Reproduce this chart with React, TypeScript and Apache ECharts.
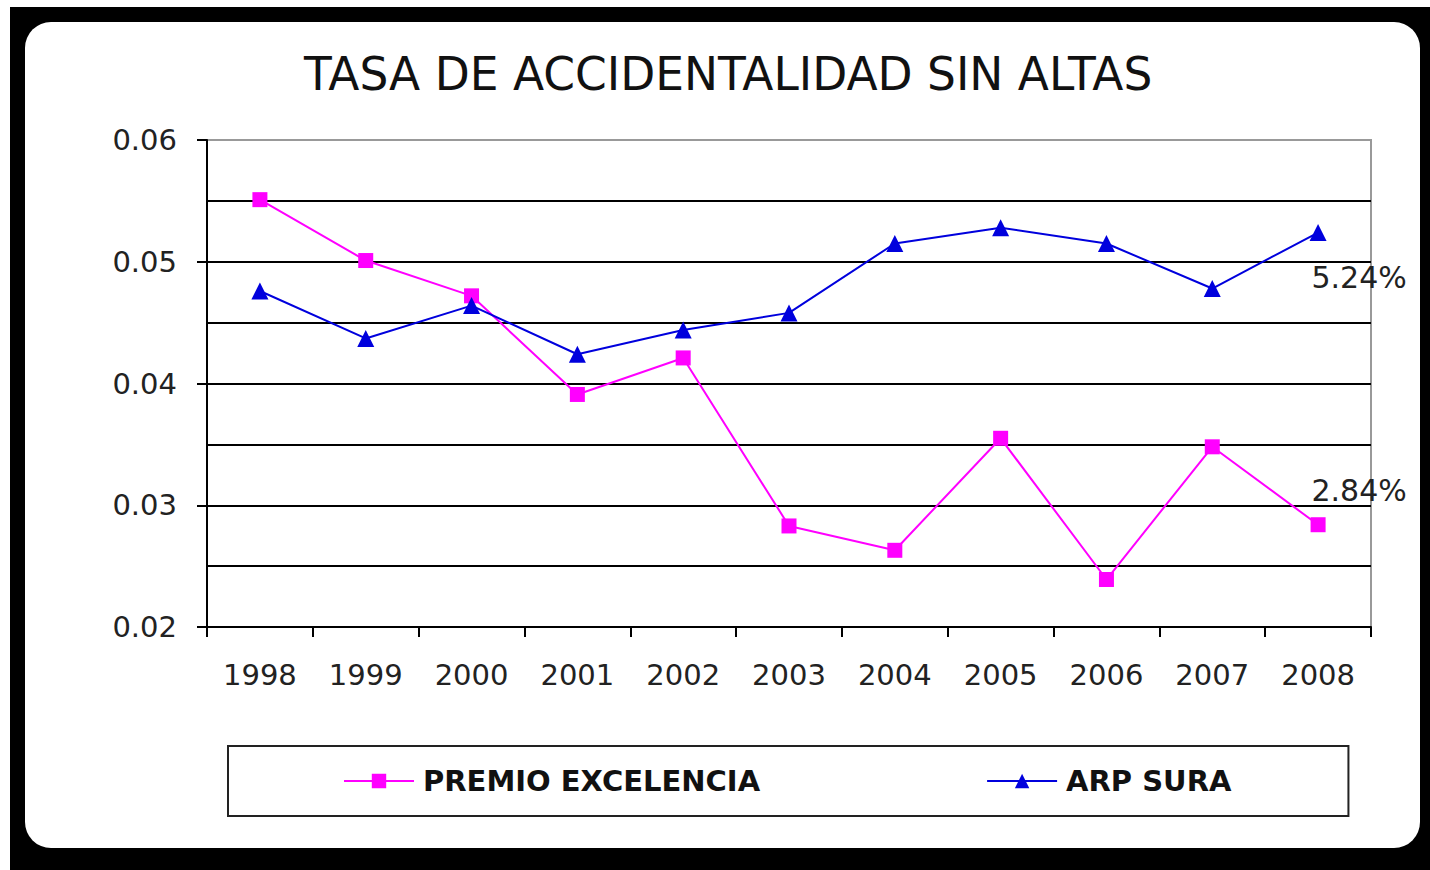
import React, { useEffect, useRef } from "react";
import * as echarts from "echarts";

const years = ["1998", "1999", "2000", "2001", "2002", "2003", "2004", "2005", "2006", "2007", "2008"];
const premioExcelencia = [0.0551, 0.0501, 0.0472, 0.0391, 0.0421, 0.0283, 0.0263, 0.0355, 0.0239, 0.0348, 0.0284];
const arpSura = [0.0476, 0.0437, 0.0464, 0.0424, 0.0444, 0.0458, 0.0515, 0.0528, 0.0515, 0.0478, 0.0524];
const seriesNames = ["PREMIO EXCELENCIA", "ARP SURA"];
const yTicks = { min: 0.02, max: 0.06, interval: 0.01 };

const FONT = "DejaVu Sans";

function withLastLabel(values: number[], offset: [number, number]) {
  return values.map((v, i) =>
    i === values.length - 1
      ? {
          value: v,
          label: {
            show: true,
            position: "inside",
            offset,
            formatter: (p: any) => (p.value * 100).toFixed(2) + "%",
            fontFamily: FONT,
            fontSize: 30,
            color: "#222",
          },
        }
      : v
  );
}

export default function App() {
  const ref = useRef<HTMLDivElement>(null);
  useEffect(() => {
    if (!ref.current) return;
    const chart = echarts.init(ref.current, undefined, { renderer: "svg" });
    chart.setOption({
      animation: false,
      backgroundColor: "#ffffff",
      graphic: [
        { type: "rect", z: -10, shape: { x: 10, y: 7, width: 1420, height: 863 }, style: { fill: "#000" } },
        { type: "rect", z: -9, shape: { x: 25, y: 22, width: 1395, height: 826, r: 26 }, style: { fill: "#fff" } },
      ],
      title: {
        text: "TASA DE ACCIDENTALIDAD SIN ALTAS",
        left: 299,
        top: 46,
        textStyle: { fontFamily: FONT, fontSize: 45.5, fontWeight: "normal", color: "#111" },
      },
      grid: {
        left: 207,
        right: 59,
        top: 140,
        bottom: 243,
        show: true,
        borderColor: "#999",
        borderWidth: 2,
        backgroundColor: "transparent",
      },
      legend: {
        left: 228,
        top: 746,
        orient: "horizontal",
        padding: [20, 117, 20, 115],
        itemGap: 226,
        itemWidth: 70,
        itemHeight: 18,
        borderColor: "#222",
        borderWidth: 2,
        textStyle: { fontFamily: FONT, fontSize: 29, fontWeight: "bold", color: "#111", lineHeight: 30, padding: [0, 0, 0, 4] },
        data: seriesNames,
      },
      xAxis: {
        type: "category",
        data: years,
        boundaryGap: true,
        axisLine: { lineStyle: { color: "#000", width: 2 } },
        axisTick: { show: true, length: 10, lineStyle: { color: "#000", width: 2 } },
        axisLabel: { fontFamily: FONT, fontSize: 29, color: "#222", margin: 33 },
        splitLine: { show: false },
      },
      yAxis: {
        type: "value",
        min: yTicks.min,
        max: yTicks.max,
        interval: yTicks.interval,
        axisLine: { show: true, lineStyle: { color: "#000", width: 2 } },
        axisTick: { show: true, length: 10, lineStyle: { color: "#000", width: 2 } },
        axisLabel: { fontFamily: FONT, fontSize: 29, color: "#222", margin: 30, formatter: (v: number) => v.toFixed(2) },
        splitLine: { show: true, showMaxLine: false, showMinLine: false, lineStyle: { color: "#000", width: 2 } },
        minorTick: { show: false, splitNumber: 2 },
        minorSplitLine: { show: true, lineStyle: { color: "#000", width: 2 } },
      },
      series: [
        {
          name: seriesNames[0],
          type: "line",
          data: withLastLabel(premioExcelencia, [41, -34]),
          symbol: "rect",
          symbolSize: 15,
          showAllSymbol: true,
          lineStyle: { color: "#ff00ff", width: 2 },
          itemStyle: { color: "#ff00ff" },
        },
        {
          name: seriesNames[1],
          type: "line",
          data: withLastLabel(arpSura, [41, 45]),
          symbol: "triangle",
          symbolSize: 17,
          showAllSymbol: true,
          lineStyle: { color: "#0000dd", width: 2 },
          itemStyle: { color: "#0000dd" },
        },
      ],
    });
    return () => chart.dispose();
  }, []);
  return <div ref={ref} style={{ position: "fixed", left: 0, top: 0, width: 1430, height: 870 }} />;
}
